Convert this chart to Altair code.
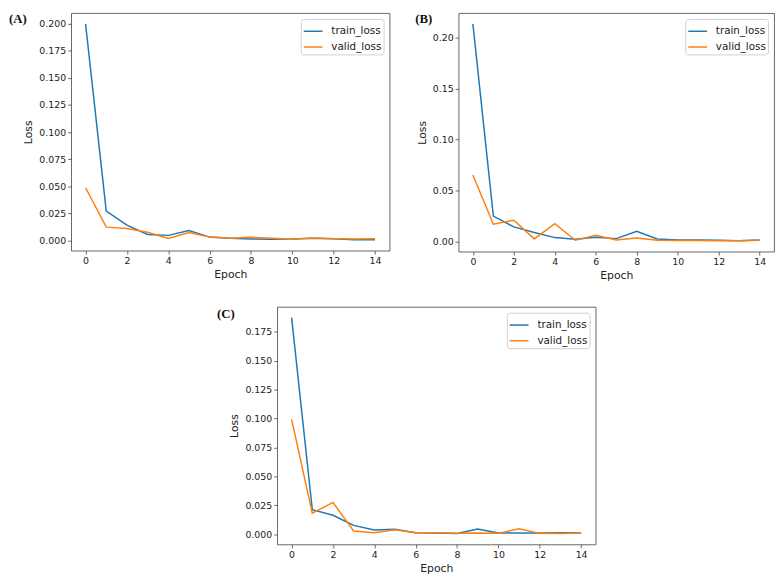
import altair as alt
import pandas as pd

epochs = list(range(15))
series_names = ["train_loss", "valid_loss"]
series_colors = ["#1f77b4", "#ff7f0e"]
x_ticks = [0, 2, 4, 6, 8, 10, 12, 14]

# Panel (A)
a_train = [0.200, 0.0271, 0.0140, 0.0055, 0.0046, 0.0091, 0.0030, 0.0020,
           0.0012, 0.0010, 0.0012, 0.0020, 0.0015, 0.0005, 0.0005]
a_valid = [0.0486, 0.0122, 0.0110, 0.0075, 0.0018, 0.0073, 0.0030, 0.0020,
           0.0028, 0.0020, 0.0010, 0.0022, 0.0015, 0.0012, 0.0015]
a_ticks = [0.0, 0.025, 0.05, 0.075, 0.1, 0.125, 0.15, 0.175, 0.2]

# Panel (B)
b_train = [0.2138, 0.0247, 0.0141, 0.0086, 0.0036, 0.0020, 0.0040, 0.0026,
           0.0099, 0.0023, 0.0012, 0.0012, 0.0010, 0.0005, 0.0012]
b_valid = [0.0651, 0.0168, 0.0207, 0.0023, 0.0174, 0.0010, 0.0059, 0.0013,
           0.0033, 0.0010, 0.0008, 0.0008, 0.0006, 0.0005, 0.0010]
b_ticks = [0.0, 0.05, 0.1, 0.15, 0.2]

# Panel (C)
c_train = [0.1872, 0.0213, 0.0164, 0.0077, 0.0037, 0.0043, 0.0014, 0.0012,
           0.0006, 0.0045, 0.0011, 0.0012, 0.0012, 0.0014, 0.0012]
c_valid = [0.0993, 0.0182, 0.0275, 0.0028, 0.0014, 0.0040, 0.0013, 0.0014,
           0.0008, 0.0012, 0.0008, 0.0048, 0.0008, 0.0007, 0.0012]
c_ticks = [0.0, 0.025, 0.05, 0.075, 0.1, 0.125, 0.15, 0.175]


def padded(train, valid):
    vals = train + valid
    lo, hi = min(vals), max(vals)
    r = hi - lo
    return [lo - 0.05 * r, hi + 0.05 * r]


def panel(train, valid, ticks, fmt, width, height, tag, tag_x, tag_y):
    df = pd.DataFrame({
        "Epoch": epochs + epochs,
        "Loss": train + valid,
        "series": [series_names[0]] * len(epochs) + [series_names[1]] * len(epochs),
    })
    lines = alt.Chart(df).mark_line(strokeWidth=1.5, clip=True).encode(
        x=alt.X("Epoch:Q",
                scale=alt.Scale(domain=[-0.7, 14.7], nice=False, zero=False),
                axis=alt.Axis(values=x_ticks, format="d", title="Epoch")),
        y=alt.Y("Loss:Q",
                scale=alt.Scale(domain=padded(train, valid), nice=False, zero=False),
                axis=alt.Axis(values=ticks, format=fmt, title="Loss")),
        color=alt.Color("series:N",
                        scale=alt.Scale(domain=series_names, range=series_colors),
                        legend=alt.Legend(title=None, orient="top-right", offset=6,
                                          symbolType="stroke", symbolSize=361,
                                          symbolStrokeWidth=1.5, labelFontSize=10.5,
                                          labelFont="DejaVu Sans", labelColor="#222",
                                          labelOffset=8, rowPadding=-4, padding=2,
                                          strokeColor="#d0d0d0", fillColor="white",
                                          cornerRadius=3)),
    )
    label = alt.Chart(pd.DataFrame({"t": [tag]})).mark_text(
        align="left", baseline="top", font="Liberation Serif",
        fontWeight="bold", fontSize=13, color="#111"
    ).encode(x=alt.value(tag_x), y=alt.value(tag_y), text="t:N")
    return alt.layer(lines, label).properties(width=width, height=height)


pa = panel(a_train, a_valid, a_ticks, ".3f", 323, 241, "(A)", -63, 0)
pb = panel(b_train, b_valid, b_ticks, ".2f", 320, 242, "(B)", -44, 0)
pc = panel(c_train, c_valid, c_ticks, ".3f", 323, 241, "(C)", -61, 1)

spacer = alt.Chart(pd.DataFrame({"v": [0]})).mark_point(opacity=0).encode(
    x=alt.value(70), y=alt.value(5)
).properties(width=147, height=10, view=alt.ViewBackground(strokeOpacity=0))

row1 = alt.hconcat(pa, pb, spacing=24).resolve_scale(
    color="independent").resolve_legend(color="independent")
row2 = alt.hconcat(spacer, pc, spacing=0).resolve_scale(
    color="independent").resolve_legend(color="independent")

chart = alt.vconcat(row1, row2, spacing=25).resolve_scale(
    color="independent").resolve_legend(color="independent").properties(
    padding=0, background="white"
).configure_view(
    stroke="#555", strokeWidth=0.9
).configure_axis(
    labelFont="DejaVu Sans", labelFontSize=9.5, labelColor="#222",
    titleFont="DejaVu Sans", titleFontSize=11, titleFontWeight="normal",
    titleColor="#222", tickSize=3.5, tickColor="#444", tickWidth=0.8,
    labelPadding=2, domain=False, grid=False, labelFlush=False
).configure_axisX(
    titlePadding=3
).configure_axisY(
    titlePadding=5
)

chart.save("out.html", embed_options={"renderer": "svg", "actions": False})
